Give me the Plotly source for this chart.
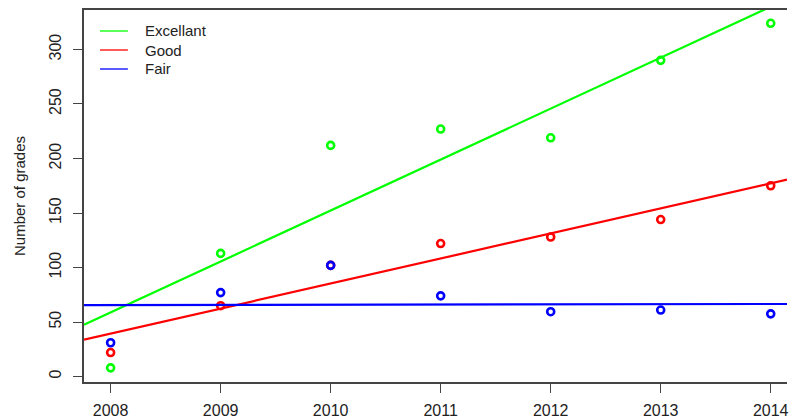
import numpy as np
import plotly.graph_objects as go

years = [2008, 2009, 2010, 2011, 2012, 2013, 2014]
excellent = [8, 113, 212, 227, 219, 290, 324]
good = [22, 65, 102, 122, 128, 144, 175]
fair = [31, 77, 102, 74, 59.5, 61, 57.5]
y_ticks = [0, 50, 100, 150, 200, 250, 300]

series = [("Excellant", excellent, "#00FF00"),
          ("Good", good, "#FF0000"),
          ("Fair", fair, "#0000FF")]

xr = [2007.758, 2014.148]
yr = [-5.0, 336.2]

W, H = 789, 419
L, T, B, R = 84, 10, 37, 0
plot_w = W - L - R
plot_h = H - T - B

fig = go.Figure()
for name, vals, col in series:
    fig.add_trace(go.Scatter(x=years, y=vals, mode="markers", showlegend=False,
                             marker=dict(symbol="circle-open", size=7, color=col,
                                         line=dict(width=2.6, color=col))))
for name, vals, col in series:
    slope, intercept = np.polyfit(years, vals, 1)
    xs = np.array(xr)
    fig.add_trace(go.Scatter(x=xs, y=intercept + slope * xs, mode="lines", showlegend=False,
                             line=dict(color=col, width=2.2)))

# manual legend (R style, no box)
leg_x0, leg_x1, leg_tx = 16, 44, 59      # px from plot left
leg_rows = [21, 40, 59]                  # px from plot top
for (name, vals, col), ry in zip(series, leg_rows):
    py = 1 - ry / plot_h
    fig.add_shape(type="line", xref="paper", yref="paper",
                  x0=leg_x0 / plot_w, x1=leg_x1 / plot_w, y0=py, y1=py,
                  line=dict(color=col, width=1.3))
    fig.add_annotation(xref="paper", yref="paper", x=leg_tx / plot_w, y=py,
                       text=name, showarrow=False, xanchor="left", yanchor="middle",
                       font=dict(size=15, color="#222"))

font = "Liberation Sans, Arial, sans-serif"
fig.update_layout(
    width=W, height=H,
    margin=dict(l=L, r=R, t=T, b=B),
    plot_bgcolor="white", paper_bgcolor="white",
    showlegend=False,
    font=dict(family=font, size=15, color="#222"),
    xaxis=dict(range=xr, tickvals=years, ticktext=[str(y) for y in years],
               showgrid=False, zeroline=False, showline=True, linecolor="#444",
               linewidth=1.5, mirror=True, ticks="outside", ticklen=9, tickwidth=1.3,
               tickcolor="#444", ticklabelstandoff=4, ticklabeloverflow="allow",
               tickfont=dict(size=16, color="#222")),
    yaxis=dict(range=yr, tickvals=y_ticks, tickangle=-90,
               showgrid=False, zeroline=False, showline=True, linecolor="#444",
               linewidth=1.5, ticks="outside", ticklen=9, tickwidth=1.3,
               tickcolor="#444", ticklabelstandoff=6, ticklabeloverflow="allow",
               tickfont=dict(size=16, color="#222"),
               title=dict(text="Number of grades", font=dict(size=15, color="#222"),
                          standoff=18)),
)
fig.write_html("out.html", config={"displayModeBar": False},
               post_script="document.body.style.margin='0';document.body.style.overflow='hidden';")
